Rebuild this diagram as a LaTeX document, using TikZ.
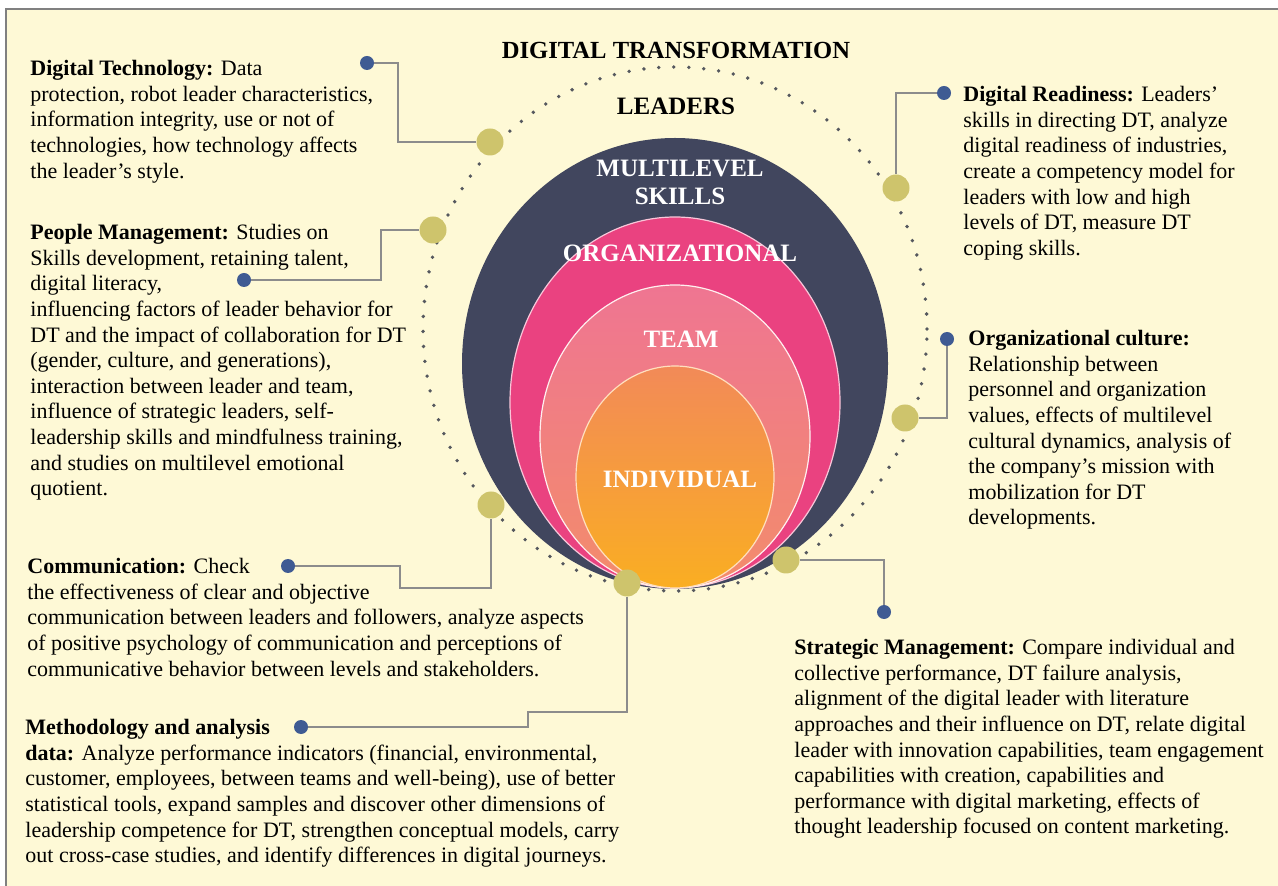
\documentclass[tikz,border=0pt]{standalone}
\usepackage{fontspec}
\setmainfont{Liberation Serif}
\definecolor{cream}{HTML}{FEF9D6}
\definecolor{navy}{HTML}{41465E}
\definecolor{rosepink}{HTML}{EA4280}
\definecolor{goldish}{HTML}{CEC46C}
\definecolor{pinblue}{HTML}{3F5B93}
\definecolor{wiregray}{HTML}{8C8C8C}
\definecolor{ringgray}{HTML}{55585E}
\begin{document}
\begin{tikzpicture}[x=0.5pt,y=-0.5pt]
    \tikzstyle{golddot} = [circle, fill=goldish, minimum size=13.5pt, inner sep=0pt]
    \tikzstyle{bluedot} = [circle, fill=pinblue, minimum size=7pt, inner sep=0pt]
    \tikzstyle{link} = [draw=wiregray, line width=1pt]
    \tikzstyle{note} = [anchor=north west, inner sep=0pt, align=left, font=\fontsize{11}{12.8}\selectfont]
    \tikzstyle{layertext} = [text=white, inner sep=0pt, align=center, font=\fontsize{12.5}{14}\selectfont\bfseries]
    \tikzstyle{heading} = [inner sep=0pt, font=\fontsize{12.3}{14}\selectfont\bfseries]

    \useasboundingbox (0,0) rectangle (1278,886);
    \fill[white] (0,0) rectangle (1278,886);
    \fill[cream] (6,9) rectangle (1290,900);
    \draw[gray, line width=1pt] (6,900) -- (6,9) -- (1290,9);

    % dotted ring and the nested levels
    \draw[ringgray, line width=1.9pt, line cap=round, dash pattern=on 0pt off 7.5pt] (675,329) ellipse [x radius=126pt, y radius=131pt];
    \fill[navy] (675,363.5) ellipse [x radius=106.5pt, y radius=112.75pt];
    \filldraw[fill=rosepink, draw=white!70!rosepink, line width=0.6pt] (675,402.5) ellipse [x radius=82.5pt, y radius=92.75pt];
    \shadedraw[top color={rgb,255:red,239;green,117;blue,146}, bottom color={rgb,255:red,243;green,140;blue,107}, draw=white!75!pink, line width=0.6pt] (675,436.5) ellipse [x radius=67.5pt, y radius=75.75pt];
    \shadedraw[top color={rgb,255:red,242;green,138;blue,88}, bottom color={rgb,255:red,250;green,174;blue,34}, draw=white!75!orange, line width=0.6pt] (675,477) ellipse [x radius=49.5pt, y radius=55.5pt];

    \node[heading] (title) at (676,50) {DIGITAL TRANSFORMATION};
    \node[heading, font=\fontsize{12.5}{14}\selectfont\bfseries] (leaders) at (676,106) {LEADERS};
    \node[layertext] (multilevel) at (680,182) {MULTILEVEL\\SKILLS};
    \node[layertext] (organizational) at (680,253) {ORGANIZATIONAL};
    \node[layertext] (team) at (681,339) {TEAM};
    \node[layertext] (individual) at (680,479) {INDIVIDUAL};

    \node[golddot] (techhub) at (490,142) {};
    \node[bluedot] (techtip) at (367,63) {};
    \node[golddot] (peoplehub) at (433,230) {};
    \node[bluedot] (peopletip) at (244,280) {};
    \node[golddot] (commhub) at (491,505) {};
    \node[bluedot] (commtip) at (288,566) {};
    \node[golddot] (methodhub) at (627,583) {};
    \node[bluedot] (methodtip) at (301,727) {};
    \node[golddot] (strategyhub) at (786,560) {};
    \node[bluedot] (strategytip) at (884,612) {};
    \node[golddot] (culturehub) at (905,418) {};
    \node[bluedot] (culturetip) at (947,339) {};
    \node[golddot] (readyhub) at (896,188) {};
    \node[bluedot] (readytip) at (944,93) {};

    \draw[link] (techtip) -- ++(31,0) |- (techhub);
    \draw[link] (peopletip) -- ++(137,0) |- (peoplehub);
    \draw[link] (commtip) -- ++(112,0) -- ++(0,22) -| (commhub);
    \draw[link] (methodtip) -- ++(227,0) -- ++(0,-15) -| (methodhub);
    \draw[link] (strategyhub) -| (strategytip);
    \draw[link] (culturetip) |- (culturehub);
    \draw[link] (readytip) -| (readyhub);

    \node[note] (technology) at (30,60) {\textbf{Digital Technology:} Data\\
        protection, robot leader characteristics,\\
        information integrity, use or not of\\
        technologies, how technology affects\\
        the leader’s style.};
    \node[note] (people) at (30,224) {\textbf{People Management:} Studies on\\
        Skills development, retaining talent,\\
        digital literacy,\\
        influencing factors of leader behavior for\\
        DT and the impact of collaboration for DT\\
        (gender, culture, and generations),\\
        interaction between leader and team,\\
        influence of strategic leaders, self-\\
        leadership skills and mindfulness training,\\
        and studies on multilevel emotional\\
        quotient.};
    \node[note] (communication) at (27,558) {\textbf{Communication:} Check\\
        the effectiveness of clear and objective\\
        communication between leaders and followers, analyze aspects\\
        of positive psychology of communication and perceptions of\\
        communicative behavior between levels and stakeholders.};
    \node[note] (methodology) at (25,719) {\textbf{Methodology and analysis}\\
        \textbf{data:} Analyze performance indicators (financial, environmental,\\
        customer, employees, between teams and well-being), use of better\\
        statistical tools, expand samples and discover other dimensions of\\
        leadership competence for DT, strengthen conceptual models, carry\\
        out cross-case studies, and identify differences in digital journeys.};
    \node[note] (readiness) at (963,86) {\textbf{Digital Readiness:} Leaders’\\
        skills in directing DT, analyze\\
        digital readiness of industries,\\
        create a competency model for\\
        leaders with low and high\\
        levels of DT, measure DT\\
        coping skills.};
    \node[note] (culture) at (968,330) {\textbf{Organizational culture:}\\
        Relationship between\\
        personnel and organization\\
        values, effects of multilevel\\
        cultural dynamics, analysis of\\
        the company’s mission with\\
        mobilization for DT\\
        developments.};
    \node[note] (strategy) at (794,639) {\textbf{Strategic Management:} Compare individual and\\
        collective performance, DT failure analysis,\\
        alignment of the digital leader with literature\\
        approaches and their influence on DT, relate digital\\
        leader with innovation capabilities, team engagement\\
        capabilities with creation, capabilities and\\
        performance with digital marketing, effects of\\
        thought leadership focused on content marketing.};
\end{tikzpicture}
\end{document}
